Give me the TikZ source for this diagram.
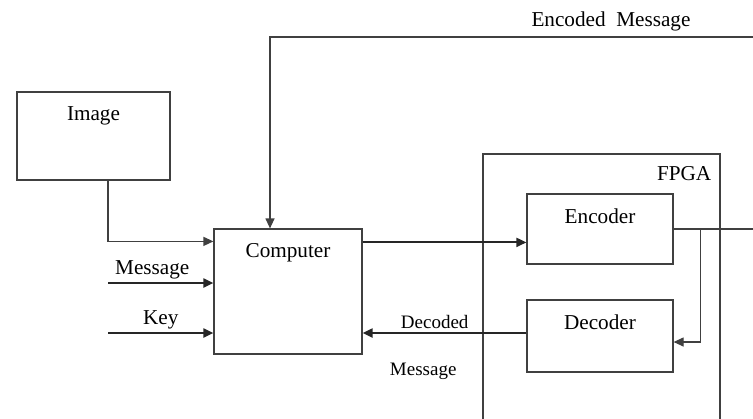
\documentclass[tikz,border=0pt]{standalone}
\usepackage{fontspec}
\setmainfont{Liberation Serif}
\usetikzlibrary{arrows.meta,calc}

\begin{document}
\begin{tikzpicture}[x=0.5pt,y=-0.5pt,
  tag/.style={font=\fontsize{10.6}{12.5}\selectfont,inner sep=1.5pt},
  small/.style={font=\fontsize{9.5}{11}\selectfont,inner sep=1.5pt},
  block/.style={draw=black!75,line width=0.6pt,inner sep=0pt},
  head/.style={label={[tag,anchor=north,yshift=-6pt]north:#1}},
  arr/.style={-{Triangle[length=5pt,width=4.5pt]},line width=1pt,draw=black!85},
  thin/.style={line width=0.6pt,draw=black!75}]

\useasboundingbox (0,0) rectangle (753,418);
\clip (0,0) rectangle (753,418);

% blocks
\node[block,head=Image,minimum width=76.5pt,minimum height=44pt] (img) at (93.5,136) {};
\node[block,head=Computer,minimum width=74pt,minimum height=62.5pt] (comp) at (288,291.5) {};
\node[block,minimum width=118.5pt,minimum height=143pt,label={[tag,anchor=north east,xshift=-3pt,yshift=-5pt]north east:FPGA}] (fpga) at (601.5,297) {};
\node[block,head=Encoder,minimum width=73pt,minimum height=35pt] (enc) at (600,229) {};
\node[block,head=Decoder,minimum width=73pt,minimum height=36pt] (dec) at (600,336) {};

% loose ends
\coordinate (msgin) at (108,283);
\coordinate (keyin) at (108,333);
\coordinate (fbin) at (753,37);
\coordinate (encout) at (753,229);

% inputs
\draw[arr,thin] (img.south -| msgin) |- ($(comp.north west)+(0,13)$);
\draw[arr] (msgin) -- (msgin -| comp.west) node[tag,pos=0.42,above] {Message};
\draw[arr] (keyin) -- (keyin -| comp.west) node[tag,midway,above] {Key};

% loop back from the encoder
\draw[arr,thin] (fbin) -| ($(comp.north)+(-18,0)$) node[tag,pos=0.147,above,yshift=1.3pt] {Encoded\ \ Message};
\draw[thin] (enc.east) -- (encout);
\draw[arr,thin] ($(enc.east)+(27,0)$) |- ($(dec.east)+(0,6)$);

\draw[arr] ($(comp.north east)+(0,14)$) coordinate (c2e) -- (c2e -| enc.west);
\draw[arr] ($(dec.west)+(0,-3)$) coordinate (d2c) -- (d2c -| comp.east)
  node[small,pos=0.56,above] {Decoded} node[small,pos=0.63,below=13pt] {Message};

\end{tikzpicture}
\end{document}
